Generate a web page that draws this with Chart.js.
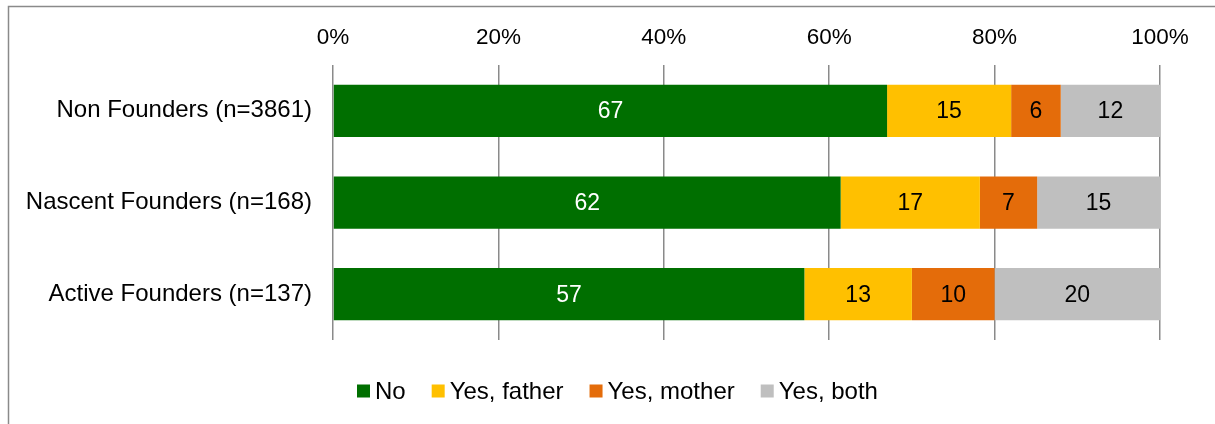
<!DOCTYPE html>
<html>
<head>
<meta charset="utf-8">
<script src="https://cdn.jsdelivr.net/npm/chart.js@4"></script>
<style>
  html, body { margin: 0; padding: 0; background: #fff; overflow: hidden; }
  #wrap { width: 1215px; height: 424px; position: relative; }
</style>
</head>
<body>
<div id="wrap"><canvas id="founderChart" width="1215" height="424"></canvas></div>
<script>
const categories = ['Non Founders (n=3861)', 'Nascent Founders (n=168)', 'Active Founders (n=137)'];
const seriesNames = ['No', 'Yes, father', 'Yes, mother', 'Yes, both'];
const noVals = [67, 62, 57];
const fatherVals = [15, 17, 13];
const motherVals = [6, 7, 10];
const bothVals = [12, 15, 20];
const tickValues = [0, 20, 40, 60, 80, 100];

const colors = ['#006F00', '#FFC000', '#E46C0A', '#BFBFBF'];
const labelColors = ['#ffffff', '#000000', '#000000', '#000000'];
const FONT = '"Liberation Sans", Arial, sans-serif';
const TICK_SIZE = 22.5;
const CAT_SIZE = 24;
const VALUE_SIZE = 23;
const LEGEND_SIZE = 24;

// 100% stacked: share of each series in its row
const raw = [noVals, fatherVals, motherVals, bothVals];
const totals = categories.map((c, i) => raw.reduce((s, arr) => s + arr[i], 0));
const datasets = raw.map((arr, k) => ({
    label: seriesNames[k],
    data: arr.map((v, i) => v / totals[i] * 100),
    rawValues: arr,
    backgroundColor: colors[k],
    borderWidth: 0,
    barPercentage: 0.57,
    categoryPercentage: 1
}));

// outer frame like the exported chart box
const framePlugin = {
    id: 'frame',
    beforeDraw(chart) {
        const ctx = chart.ctx;
        ctx.save();
        ctx.fillStyle = '#fff';
        ctx.fillRect(0, 0, chart.width, chart.height);
        ctx.strokeStyle = '#8a8a8a';
        ctx.lineWidth = 1.5;
        ctx.strokeRect(8.5, 6.5, chart.width + 20, chart.height + 20);
        ctx.restore();
    }
};

// value labels in the middle of each segment
const valueLabels = {
    id: 'valueLabels',
    afterDatasetsDraw(chart) {
        const ctx = chart.ctx;
        ctx.save();
        ctx.font = VALUE_SIZE + 'px ' + FONT;
        ctx.textAlign = 'center';
        ctx.textBaseline = 'middle';
        chart.data.datasets.forEach((ds, k) => {
            chart.getDatasetMeta(k).data.forEach((bar, i) => {
                const p = bar.getCenterPoint();
                ctx.fillStyle = labelColors[k];
                ctx.fillText(String(ds.rawValues[i]), p.x, p.y + 1);
            });
        });
        ctx.restore();
    }
};

// legend drawn under the plot, small squares with tight text
const legendPlugin = {
    id: 'customLegend',
    afterDraw(chart) {
        const ctx = chart.ctx;
        ctx.save();
        ctx.font = LEGEND_SIZE + 'px ' + FONT;
        ctx.textBaseline = 'middle';
        const box = 13, gapText = 5, gapItem = 26;
        const items = chart.data.datasets.map(ds => ({ label: ds.label, color: ds.backgroundColor, w: ctx.measureText(ds.label).width }));
        let x = 357;
        const y = 391;
        items.forEach(it => {
            ctx.fillStyle = it.color;
            ctx.fillRect(x, y - 6.5, box, box);
            ctx.fillStyle = '#000';
            ctx.fillText(it.label, x + box + gapText, y + 1);
            x += box + gapText + it.w + gapItem;
        });
        ctx.restore();
    }
};

new Chart(document.getElementById('founderChart'), {
    type: 'bar',
    data: { labels: categories, datasets: datasets },
    plugins: [framePlugin, valueLabels, legendPlugin],
    options: {
        indexAxis: 'y',
        responsive: false,
        animation: false,
        layout: { padding: { left: 0, right: 55, top: 0, bottom: 84 } },
        plugins: {
            legend: { display: false },
            tooltip: { enabled: false }
        },
        scales: {
            x: {
                position: 'top',
                stacked: true,
                min: 0,
                max: 100,
                afterBuildTicks(scale) {
                    scale.ticks = tickValues.map(v => ({ value: v }));
                },
                afterFit(scale) { scale.height = 65; },
                ticks: {
                    color: '#000',
                    font: { family: FONT, size: TICK_SIZE },
                    padding: 14,
                    maxRotation: 0,
                    callback: v => v + '%'
                },
                grid: { color: '#8a8a8a', lineWidth: 1.5, drawTicks: false },
                border: { display: false }
            },
            y: {
                stacked: true,
                afterFit(scale) { scale.width = 333; },
                ticks: {
                    color: '#000',
                    font: { family: FONT, size: CAT_SIZE },
                    padding: 13
                },
                grid: { display: false },
                border: { display: false }
            }
        }
    }
});
</script>
</body>
</html>
